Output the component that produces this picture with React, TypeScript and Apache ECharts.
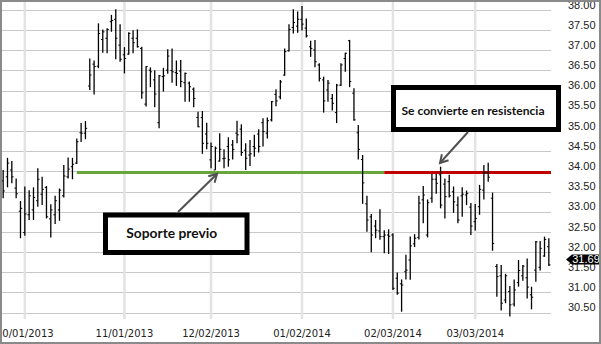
import React, { useEffect, useRef } from "react";
import * as echarts from "echarts";

// Trading days per month (MM/DD/YYYY categories)
const sep2013 = [24, 25, 26, 27, 30];
const oct2013 = [1, 2, 3, 4, 7, 8, 9, 10, 11, 14, 15, 16, 17, 18, 21, 22, 23, 24, 25, 28, 29, 30, 31];
const nov2013 = [1, 4, 5, 6, 7, 8, 11, 12, 13, 14, 15, 18, 19, 20, 21, 22, 25, 26, 27, 29];
const dec2013 = [2, 3, 4, 5, 6, 9, 10, 11, 12, 13, 16, 17, 18, 19, 20, 23, 24, 26, 27, 30, 31];
const jan2014 = [2, 3, 6, 7, 8, 9, 10, 13, 14, 15, 16, 17, 21, 22, 23, 24, 27, 28, 29, 30, 31];
const feb2014 = [3, 4, 5, 6, 7, 10, 11, 12, 13, 14, 18, 19, 20, 21, 24, 25, 26, 27, 28];
const mar2014 = [3, 4, 5, 6, 7, 10, 11, 12, 13, 14, 17, 18, 19, 20, 21, 24, 25, 26];

const opens = [
  33.77, 33.87, 34.04, 33.59, 33.02, 32.49, 32.93, 33.05, 33.28, 33.44,
  33.61, 32.83, 32.93, 33.05, 33.40, 33.87, 34.12, 34.21, 34.96, 34.95,
  36.12, 36.66, 36.61, 37.27, 37.30, 37.71, 37.77, 37.13, 36.89, 36.91,
  37.30, 37.30, 37.05, 35.67, 36.51, 36.27, 35.21, 36.35, 36.51, 36.50,
  36.45, 36.49, 36.20, 36.19, 36.04, 35.34, 35.34, 34.93, 34.29, 34.04,
  34.26, 34.32, 34.62, 34.66, 34.95, 35.05, 34.53, 34.41, 34.62, 34.93,
  35.21, 34.95, 35.28, 35.91, 35.85, 36.39, 36.99, 37.57, 37.60, 37.77,
  37.55, 37.09, 37.01, 36.64, 36.27, 36.02, 35.81, 35.46, 36.14, 36.80,
  37.24, 35.94, 34.96, 34.30, 33.20, 32.88, 32.65, 32.53, 32.39, 32.43,
  32.43, 31.36, 31.22, 31.52, 31.81, 32.21, 32.37, 33.30, 32.43, 33.34,
  33.81, 33.92, 33.69, 33.75, 33.50, 33.17, 33.40, 33.42, 33.12, 32.76,
  33.13, 33.54, 33.97, 33.34, 31.65, 31.42, 30.82, 31.03, 30.72, 31.25,
  31.42, 31.37, 30.95, 31.56, 31.63, 31.91, 32.14,
];
const highs = [
  34.04, 34.34, 34.26, 33.83, 33.27, 33.63, 33.54, 33.61, 34.08, 33.87,
  33.64, 33.19, 33.40, 33.58, 34.16, 34.35, 34.34, 34.82, 35.20, 35.25,
  36.80, 36.75, 37.67, 37.52, 37.55, 37.88, 38.02, 37.65, 37.08, 37.45,
  37.50, 37.52, 37.09, 36.61, 36.58, 36.51, 36.39, 36.57, 37.03, 37.05,
  36.75, 36.76, 36.45, 36.23, 36.08, 35.48, 35.50, 35.21, 34.72, 34.62,
  34.95, 34.55, 34.85, 34.78, 35.26, 35.17, 34.70, 34.78, 34.91, 35.05,
  35.32, 35.34, 35.75, 36.04, 36.27, 37.05, 37.65, 38.02, 37.96, 38.10,
  37.79, 37.24, 37.26, 36.68, 36.35, 36.27, 35.92, 36.17, 36.68, 36.94,
  37.26, 36.06, 35.15, 34.41, 33.40, 32.95, 32.80, 33.07, 32.55, 32.57,
  32.47, 31.50, 31.33, 31.94, 32.39, 32.45, 33.40, 33.64, 33.31, 33.94,
  33.94, 34.12, 33.83, 33.92, 33.63, 33.38, 33.61, 33.53, 33.22, 33.20,
  33.67, 34.16, 34.22, 33.48, 31.71, 31.69, 31.47, 31.17, 31.33, 31.81,
  31.69, 31.85, 31.15, 32.28, 32.28, 32.39, 32.35,
];
const lows = [
  33.34, 33.61, 33.71, 33.34, 32.35, 32.41, 32.80, 32.80, 33.13, 33.17,
  32.84, 32.37, 32.70, 32.78, 33.36, 33.83, 33.81, 34.19, 34.73, 34.80,
  36.02, 35.91, 36.56, 36.94, 36.93, 37.46, 36.78, 36.72, 36.43, 36.89,
  36.93, 37.07, 35.80, 35.61, 36.09, 35.59, 35.07, 35.98, 36.42, 36.20,
  36.12, 36.09, 35.73, 35.73, 35.59, 35.10, 34.44, 34.55, 34.08, 34.04,
  34.25, 34.08, 34.12, 34.30, 34.70, 34.39, 34.04, 34.14, 34.37, 34.47,
  34.62, 34.82, 35.24, 35.62, 35.79, 36.37, 36.97, 37.42, 37.44, 37.49,
  37.32, 36.84, 36.58, 36.23, 35.46, 35.73, 35.51, 35.20, 36.12, 36.47,
  36.09, 35.26, 34.30, 33.20, 32.51, 32.00, 32.35, 32.31, 31.98, 31.96,
  31.07, 30.95, 30.53, 31.33, 31.32, 32.13, 32.32, 32.72, 32.37, 33.23,
  33.45, 33.09, 32.84, 33.36, 32.98, 32.72, 32.88, 33.17, 32.43, 32.54,
  32.93, 33.31, 33.75, 32.04, 30.90, 30.56, 30.74, 30.41, 30.66, 31.15,
  31.30, 30.86, 30.59, 31.27, 31.55, 31.89, 31.66,
];
const closes = [
  33.52, 34.21, 33.87, 33.45, 33.09, 32.95, 33.40, 33.36, 33.81, 33.56,
  32.88, 33.05, 33.28, 33.54, 33.89, 34.06, 34.18, 34.74, 34.95, 35.07,
  36.39, 36.60, 37.42, 37.46, 37.52, 37.74, 37.30, 36.78, 36.80, 37.42,
  37.19, 37.09, 35.95, 36.60, 36.47, 35.92, 36.37, 36.37, 36.86, 36.47,
  36.43, 36.23, 36.43, 36.10, 35.81, 35.11, 34.70, 34.70, 34.62, 34.58,
  34.55, 34.33, 34.29, 34.55, 34.91, 34.47, 34.33, 34.44, 34.58, 34.62,
  34.99, 35.26, 35.73, 35.75, 36.22, 36.97, 37.52, 37.69, 37.77, 37.65,
  37.36, 37.05, 36.72, 36.31, 35.75, 36.19, 35.69, 36.14, 36.64, 36.93,
  36.23, 35.28, 34.55, 33.72, 32.80, 32.43, 32.55, 32.39, 32.43, 32.40,
  31.11, 30.99, 31.19, 31.56, 32.16, 32.35, 33.22, 33.42, 33.23, 33.81,
  33.71, 33.17, 33.38, 33.40, 33.25, 32.80, 33.44, 33.46, 32.65, 32.84,
  33.56, 33.97, 33.86, 32.22, 31.40, 30.74, 31.42, 30.70, 31.07, 31.55,
  31.66, 31.14, 30.89, 32.26, 32.10, 32.32, 31.69,
];

const levelPrice = 33.98;
const supportStartIdx = 17;
const resistanceStartIdx = 88;
const supportLabel = "Soporte previo";
const resistanceLabel = "Se convierte en resistencia";
const yMin = 30.35;
const yMax = 38.223;

function buildDates(): string[] {
  const months: [number, number, number[]][] = [
    [2013, 9, sep2013], [2013, 10, oct2013], [2013, 11, nov2013], [2013, 12, dec2013],
    [2014, 1, jan2014], [2014, 2, feb2014], [2014, 3, mar2014],
  ];
  const out: string[] = [];
  const p = (n: number) => (n < 10 ? "0" + n : "" + n);
  months.forEach(([y, m, days]) => days.forEach((d) => out.push(`${p(m)}/${p(d)}/${y}`)));
  return out;
}
const dates = buildDates();
const monthStarts = dates
  .map((d, i) => (i > 0 && d.slice(0, 2) !== dates[i - 1].slice(0, 2) ? i : -1))
  .filter((i) => i >= 0);

function arrow(x1: number, y1: number, x2: number, y2: number, color: string) {
  const ang = Math.atan2(y2 - y1, x2 - x1);
  const len = 9;
  const spread = Math.PI / 6;
  const p1 = [x2 - len * Math.cos(ang - spread), y2 - len * Math.sin(ang - spread)];
  const p2 = [x2 - len * Math.cos(ang + spread), y2 - len * Math.sin(ang + spread)];
  return [
    { type: "line", shape: { x1, y1, x2, y2 }, style: { stroke: color, lineWidth: 2 } },
    { type: "polyline", shape: { points: [p1, [x2, y2], p2] }, style: { stroke: color, lineWidth: 2, fill: null } },
  ];
}

export default function App() {
  const ref = useRef<HTMLDivElement>(null);
  useEffect(() => {
    if (!ref.current) return;
    const chart = echarts.init(ref.current, undefined, { renderer: "svg" });
    const ohlc = dates.map((_, i) => [i, opens[i], highs[i], lows[i], closes[i]]);
    const last = dates.length - 1;
    chart.setOption({
      animation: false,
      backgroundColor: "#fff",
      grid: { left: 1, right: 50, top: 1, bottom: 25, containLabel: false, outerBoundsMode: "none" },
      xAxis: {
        type: "category",
        data: dates,
        boundaryGap: true,
        axisLine: { show: false },
        axisTick: { show: false },
        splitLine: { show: false },
        axisLabel: {
          interval: (idx: number) => monthStarts.indexOf(idx) >= 0,
          fontFamily: "DejaVu Sans",
          fontSize: 10,
          color: "#222",
          margin: 9,
        },
      },
      yAxis: {
        type: "value",
        position: "right",
        min: yMin,
        max: yMax,
        splitNumber: 16,
        axisLine: { show: false },
        axisTick: { show: false },
        splitLine: { show: true, showMinLine: false, showMaxLine: false, lineStyle: { color: "#c8c8c8", width: 1 } },
        axisLabel: {
          showMinLabel: false,
          showMaxLabel: false,
          formatter: (v: number) => (Math.abs(v * 2 - Math.round(v * 2)) < 1e-6 ? v.toFixed(2) : ""),
          fontFamily: "Liberation Sans",
          fontSize: 11,
          color: "#222",
          margin: 17,
          verticalAlign: "bottom",
          lineHeight: 11,
        },
      },
      series: [
        {
          type: "custom",
          z: 1,
          silent: true,
          data: monthStarts.map((i) => [i, yMin]),
          encode: { x: 0, y: 1 },
          renderItem: (params: any, api: any) => {
            const cs = params.coordSys;
            const x = api.coord([api.value(0), yMin])[0];
            return {
              type: "line",
              shape: { x1: x, y1: cs.y, x2: x, y2: cs.y + cs.height },
              style: { stroke: "#e3e3e3", lineWidth: 2.5 },
            };
          },
        },
        {
          type: "custom",
          z: 2,
          silent: true,
          data: [
            [supportStartIdx, resistanceStartIdx, levelPrice, 0],
            [resistanceStartIdx, last, levelPrice, 1],
          ],
          encode: { x: 0, y: 2 },
          renderItem: (params: any, api: any) => {
            const cs = params.coordSys;
            const a = api.coord([api.value(0), api.value(2)]);
            const b = api.coord([api.value(1), api.value(2)]);
            const red = api.value(3) === 1;
            return {
              type: "line",
              shape: { x1: a[0], y1: a[1], x2: red ? cs.x + cs.width : b[0], y2: b[1] },
              style: { stroke: red ? "#c00000" : "#6aa53c", lineWidth: 3 },
            };
          },
        },
        {
          type: "custom",
          z: 3,
          silent: true,
          clip: false,
          data: ohlc,
          encode: { x: 0, y: [1, 2, 3, 4] },
          renderItem: (params: any, api: any) => {
            const cs = params.coordSys;
            const i = api.value(0);
            const o = api.coord([i, api.value(1)]);
            const h = api.coord([i, api.value(2)]);
            const l = api.coord([i, api.value(3)]);
            const c = api.coord([i, api.value(4)]);
            const x = o[0];
            const t = 1.7;
            const children: any[] = [
              { type: "line", shape: { x1: x, y1: h[1], x2: x, y2: l[1] }, style: { stroke: "#000", lineWidth: 1.3 } },
              { type: "line", shape: { x1: x - t, y1: o[1], x2: x, y2: o[1] }, style: { stroke: "#000", lineWidth: 1 } },
              { type: "line", shape: { x1: x, y1: c[1], x2: x + t, y2: c[1] }, style: { stroke: "#000", lineWidth: 1 } },
            ];
            if (params.dataIndex === last) {
              const x0 = cs.x + cs.width + 15;
              const yc = c[1] - 5.5;
              children.push({
                type: "polygon",
                shape: { points: [[x0, yc], [x0 + 6, yc - 5], [x0 + 33, yc - 5], [x0 + 33, yc + 5], [x0 + 6, yc + 5]] },
                style: { fill: "#000" },
              });
              children.push({
                type: "text",
                style: {
                  x: x0 + 20, y: yc, text: api.value(4).toFixed(2), fill: "#fff",
                  font: "11px 'Liberation Sans'", align: "center", verticalAlign: "middle",
                },
              });
            }
            return { type: "group", children };
          },
        },
      ],
      graphic: [
        { type: "rect", shape: { x: 1, y: 1, width: 599, height: 342 }, style: { fill: null, stroke: "#8a8a8a", lineWidth: 2 }, z: 100 },
        { type: "rect", shape: { x: 105.5, y: 215, width: 141.5, height: 37.5 }, style: { fill: "#fff", stroke: "#000", lineWidth: 5 }, z: 100 },
        { type: "text", x: 171.7, y: 232.5, style: { text: supportLabel, font: "bold 13.8px Lato", fill: "#111", align: "center", verticalAlign: "middle" }, z: 101 },
        { type: "rect", shape: { x: 393.5, y: 87.5, width: 165, height: 42 }, style: { fill: "#fff", stroke: "#000", lineWidth: 5 }, z: 100 },
        { type: "text", x: 473, y: 110, style: { text: resistanceLabel, font: "bold 12.1px Lato", fill: "#111", align: "center", verticalAlign: "middle" }, z: 101 },
        ...arrow(178, 212, 217, 174, "#505050").map((e) => ({ ...e, z: 101 })),
        ...arrow(468, 132, 440, 163, "#505050").map((e) => ({ ...e, z: 101 })),
      ],
    });
    return () => chart.dispose();
  }, []);
  return <div ref={ref} style={{ position: "fixed", left: 0, top: 0, width: 601, height: 344 }} />;
}
